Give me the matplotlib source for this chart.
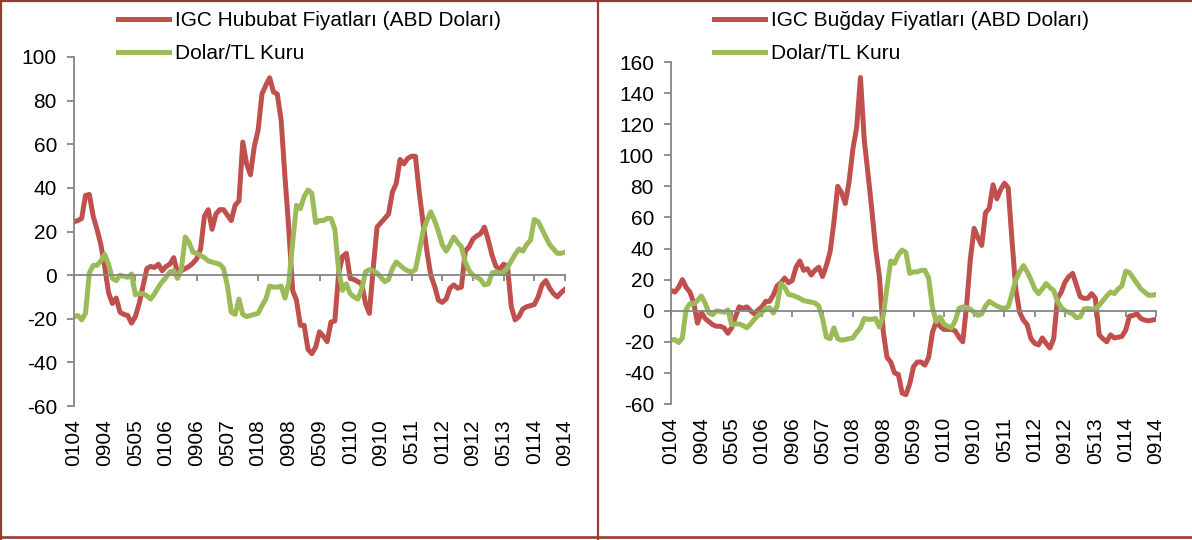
import matplotlib
matplotlib.use("Agg")
import matplotlib.pyplot as plt
from matplotlib.lines import Line2D
import numpy as np

plt.rcParams['font.family'] = ['Liberation Sans', 'DejaVu Sans']

# ---------------- data ----------------
tick_labels = ['0104', '0904', '0505', '0106', '0906', '0507', '0108', '0908', '0509',
               '0110', '0910', '0511', '0112', '0912', '0513', '0114', '0914']

hububat = [24.5, 25, 26, 36.5, 37, 27, 21, 14, 4, -8,
           -13, -10.5, -17, -18, -18.5, -22, -19, -13, -5, 3,
           4, 3.5, 5, 2, 4, 5, 8, 1, 2, 3,
           4, 5.5, 7.5, 12, 27, 30, 21, 28, 30, 30,
           27.5, 25, 32, 34, 61, 51, 46, 59, 66.5, 83,
           87, 90.5, 84, 83, 71, 45, 21, -7, -11.5, -23,
           -23, -34, -36, -33, -26, -28, -30.5, -21.5, -21, 1,
           8.5, 10, -1.5, -2, -3, -4, -13, -17.5, 3, 22,
           24, 26, 28, 38, 42, 53, 51, 53.5, 54.5, 54.5,
           38, 24, 11, 0, -5, -11.5, -12.5, -11, -6, -4.5,
           -6, -5.5, 11, 13, 16.5, 18, 19, 22, 16, 9,
           4, 2.5, 5, 4, -14.5, -20.5, -19, -15.5, -14.5, -14,
           -13.5, -10, -4.5, -2.5, -6, -8.5, -10, -8, -6.5]

bugday = [13, 12, 15, 20, 15, 12, 5, -8, -1, -5,
          -7, -9, -10, -10, -11, -14.5, -11, -4, 2.5, 1.5,
          2.5, 0, -2, 0.5, 2.5, 6, 6, 10, 16, 18,
          21, 18, 19.5, 28, 32, 26, 27, 23, 26, 28,
          22, 29, 38, 57, 80, 76, 69, 83, 104, 118,
          150, 110, 88, 65, 40, 22, -13, -30, -33, -40,
          -41, -53, -54, -47, -36, -33, -33, -35, -30, -14,
          -7, -10, -12, -12, -12, -13, -17, -20, 3, 33,
          53, 47, 42, 63, 66, 81, 72, 78, 82, 79,
          45, 14, -1, -6, -9, -18, -21, -22, -17.5, -21,
          -24, -18, 8, 12, 18.5, 22, 24, 16.5, 9, 8,
          8, 11, 8, -15.5, -18, -20, -15.5, -17.5, -17, -16.5,
          -12.5, -3.5, -3, -2, -5, -6, -6.5, -6, -5.5]

dolar_tl = [-19, -18.5, -20.5, -17.5, 1, 4.5, 4.5, 6.5, 9.5, 5,
            -1.5, -2.5, 0, -0.5, -1, 0.5, -9, -8.5, -8.5, -9.5,
            -11, -8.5, -5.5, -3, -1, 1.5, 2, -1.5, 3, 17.5,
            15, 10.5, 10, 9, 8, 6.5, 6, 5.5, 5, 3,
            -5, -17, -18, -11, -18, -19, -18.5, -18, -17.5, -14,
            -11, -5, -5.5, -5.5, -5, -10.5, -3.5, 15, 32, 30.5,
            36, 39, 37.5, 24, 25, 25, 26, 26, 21, 2,
            -7, -4, -8.5, -10, -11, -6.5, 1.5, 2.5, 2, 1,
            -1, -3, -2, 3, 6, 4.5, 3, 2, 1.5, 2.5,
            11, 20, 25, 29, 25, 20, 14, 11, 14, 17.5,
            15, 13, 6, 2, 0, -1, -2, -4.5, -4, 1,
            1.5, 1, 1, 3.5, 6.5, 9.5, 12, 11, 14, 16,
            25.5, 24.5, 21, 17.5, 14, 12, 10, 10, 10.5]

label_left = 'IGC Hububat Fiyatları (ABD Doları)'
label_right = 'IGC Buğday Fiyatları (ABD Doları)'
label_fx = 'Dolar/TL Kuru'

left_yticks = list(range(-60, 101, 20))
right_yticks = list(range(-60, 161, 20))

# ---------------- style ----------------
RED = '#C0504D'
GREEN = '#9BBB59'
GRAY = '#868686'
BORDER = '#9A3A33'
LW = 3.6
FS = 15

W, H = 1192, 540
fig = plt.figure(figsize=(W / 100, H / 100), dpi=100)

x = np.arange(len(dolar_tl))
tick_pos = np.arange(0, len(dolar_tl), 8)


def make_panel(rect, series, label, yticks):
    ax = fig.add_axes(rect)
    ax.plot(x, series, color=RED, lw=LW, label=label, solid_joinstyle='round')
    ax.plot(x, dolar_tl, color=GREEN, lw=LW, label=label_fx, solid_joinstyle='round')
    ax.set_xlim(0, len(x) - 1)
    ax.set_ylim(yticks[0], yticks[-1])
    ax.set_yticks(yticks)
    ax.set_yticklabels([str(v) for v in yticks])
    for s in ['top', 'right']:
        ax.spines[s].set_visible(False)
    ax.spines['left'].set_color(GRAY)
    ax.spines['left'].set_linewidth(1.3)
    ax.spines['bottom'].set_position(('data', 0))
    ax.spines['bottom'].set_color(GRAY)
    ax.spines['bottom'].set_linewidth(1.3)
    ax.set_xticks(tick_pos)
    ax.tick_params(axis='x', direction='out', length=4, width=1.3, color=GRAY,
                   labelbottom=False)
    ax.tick_params(axis='y', direction='out', length=4.8, width=1.3, color=GRAY,
                   labelsize=FS, pad=7.5, labelcolor='black')
    sec = ax.secondary_xaxis('bottom')
    sec.set_xticks(tick_pos)
    sec.set_xticklabels(tick_labels, rotation=90, fontsize=FS)
    sec.tick_params(length=0, pad=9.5)
    sec.spines['bottom'].set_visible(False)
    return ax


axL = make_panel([74 / W, 134 / H, 491 / W, 349 / H], hububat, label_left, left_yticks)
axR = make_panel([671 / W, 136 / H, 485 / W, 342 / H], bugday, label_right, right_yticks)

for ax, x0 in [(axL, 118), (axR, 714)]:
    fig.legend(handles=ax.get_lines(), loc='upper left',
               bbox_to_anchor=(x0 / W, 1 - 11 / H), bbox_transform=fig.transFigure,
               frameon=False, fontsize=FS, handlelength=2.45, handletextpad=0.3,
               labelspacing=0.68, borderpad=0, borderaxespad=0)

# frame lines
lw_b = 1.6
fig.add_artist(Line2D([1 / W, 1 / W], [0, 1], transform=fig.transFigure, color=BORDER, lw=lw_b))
fig.add_artist(Line2D([0, 1], [1 - 1 / H, 1 - 1 / H], transform=fig.transFigure, color=BORDER, lw=lw_b))
fig.add_artist(Line2D([0, 1], [1 - 537 / H, 1 - 537 / H], transform=fig.transFigure, color=BORDER, lw=lw_b + 0.3))
fig.add_artist(Line2D([598 / W, 598 / W], [0, 1], transform=fig.transFigure, color=BORDER, lw=lw_b))

fig.savefig('out.png', dpi=100)
